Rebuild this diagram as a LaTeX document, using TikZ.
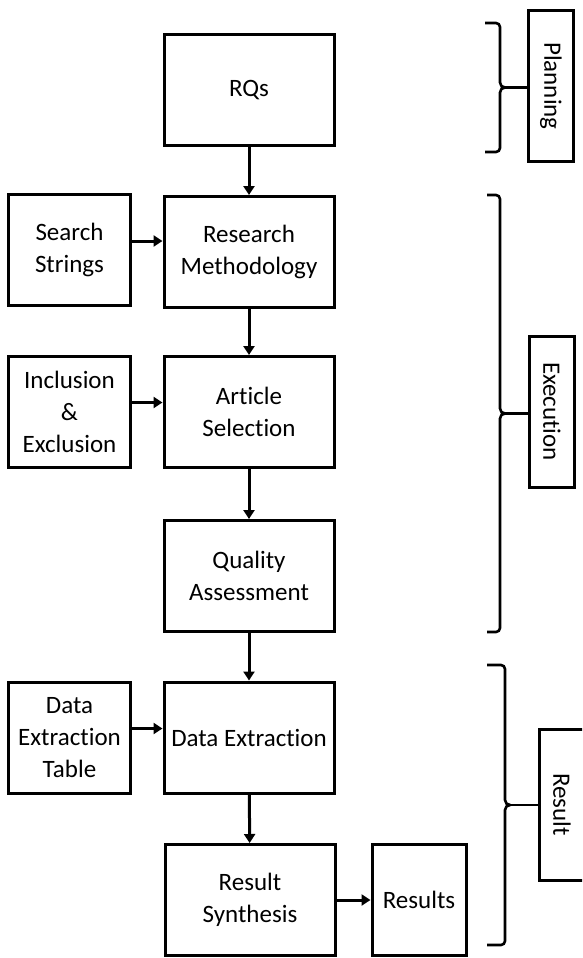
\documentclass[tikz,border=0pt]{standalone}
\usepackage{fontspec}
\setmainfont{Carlito}[Ligatures=NoCommon]
\usetikzlibrary{arrows.meta,calc}
\begin{document}
\begin{tikzpicture}[x=1pt,y=-1pt,
  box/.style={draw,line width=3pt,align=center,inner sep=0pt,
    font=\fontsize{25}{32}\selectfont},
  mainbox/.style={box,minimum width=170pt,minimum height=111pt},
  sidebox/.style={box,minimum width=122pt,minimum height=111pt},
  phasebox/.style={box,rotate=-90,minimum width=151pt,minimum height=45pt},
  flow/.style={line width=3pt,-{Triangle[length=9pt,width=11pt]}},
  bracestroke/.style={line width=2.6pt},
  tipline/.style={line width=2.6pt}]
  \fill[white] (0,0) rectangle (582,958);
  \useasboundingbox (0,0) rectangle (582,958);
  \clip (0,0) rectangle (582,958);

  % main process column
  \node[mainbox] (rqs) at (249,90)    {RQs};
  \node[mainbox] (rm)  at (249,252)   {Research\\Methodology};
  \node[mainbox] (as)  at (249,412)   {Article\\Selection};
  \node[mainbox] (qa)  at (249,576)   {Quality\\Assessment};
  \node[mainbox] (de)  at (249,737.5) {Data Extraction};
  \node[mainbox] (rs)  at (250,900)   {Result\\Synthesis};

  % inputs on the left
  \node[sidebox] (ss)  at (69.5,250)   {Search\\Strings};
  \node[sidebox] (ie)  at (69.5,411.5) {Inclusion\\\&\\Exclusion};
  \node[sidebox] (det) at (69.5,737.5) {Data\\Extraction\\Table};

  % output
  \node[box,minimum width=94pt,minimum height=111pt] (res) at (419,900) {Results};

  % vertical flow
  \draw[flow] (rqs) -- (rm);
  \draw[flow] (rm) -- (as);
  \draw[flow] (as) -- (qa);
  \draw[flow] (qa) -- (de);
  \draw[flow] (de) -- (rs);

  % horizontal inputs
  \draw[flow] ([yshift=9pt]ss.east) -- ([yshift=9pt]ss.east -| rm.west);
  \draw[flow] ([yshift=9pt]ie.east) -- ([yshift=9pt]ie.east -| as.west);
  \draw[flow] ([yshift=9pt]det.east) -- ([yshift=9pt]det.east -| de.west);
  \draw[flow] (rs.east) -- (res.west);

  % phase labels (rotated: their south anchor faces left)
  \node[phasebox] (plan) at (551,86)    {Planning};
  \node[phasebox] (exec) at (552,411.5) {Execution};
  \node[phasebox] (rslt) at (562,804.5) {Result};

  % braces: #1 left end x, #2 spine x, #3 top y, #4 bottom y, #5 tip name
  \newcommand{\phasebrace}[5]{%
    \draw[bracestroke] (#1,#3) -- (#2-4,#3) to[out=0,in=90] (#2,#3+4)
      -- (#2,{(#3+#4)/2-5}) to[out=-90,in=180] (#2+5,{(#3+#4)/2})
      to[out=180,in=90] (#2,{(#3+#4)/2+5})
      -- (#2,#4-4) to[out=-90,in=0] (#2-4,#4) -- (#1,#4);
    \coordinate (#5) at (#2+5,{(#3+#4)/2});}
  \phasebrace{485}{500}{23}{152}{tipplan}
  \phasebrace{487}{500}{195}{632}{tipexec}
  \phasebrace{487}{505}{665}{945}{tiprslt}

  \draw[tipline] (tipplan) -- (tipplan -| plan.south);
  \draw[tipline] (tipexec) -- (tipexec -| exec.south);
  \draw[tipline] (tiprslt) -- (tiprslt -| rslt.south);
\end{tikzpicture}
\end{document}
